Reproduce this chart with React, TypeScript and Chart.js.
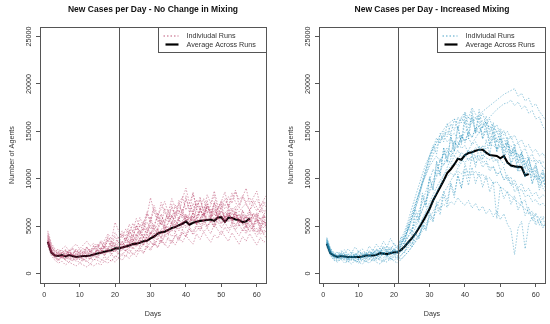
import React, { useEffect, useRef } from "react";
import { Chart, registerables } from "chart.js";

Chart.register(...registerables);

const FONT = "'Liberation Sans', Arial, Helvetica, sans-serif";

const DAYS = [
  1, 2, 3, 4, 5, 6, 7, 8, 9, 10, 11, 12, 13, 14, 15, 16, 17, 18, 19, 20,
  21, 22, 23, 24, 25, 26, 27, 28, 29, 30, 31, 32, 33, 34, 35, 36, 37, 38, 39, 40,
  41, 42, 43, 44, 45, 46, 47, 48, 49, 50, 51, 52, 53, 54, 55, 56, 57, 58, 59, 60,
  61, 62, 63,
];

const X_TICKS = [0, 10, 20, 30, 40, 50, 60];
const Y_TICKS = [0, 5000, 10000, 15000, 20000, 25000];
const INTERVENTION_DAY = 21;

const TITLE_LEFT = "New Cases per Day - No Change in Mixing";
const TITLE_RIGHT = "New Cases per Day - Increased Mixing";
const LEGEND_LABELS = ["Indiviudal Runs", "Average Across Runs"];

// Average across runs (days 1..58)
const AVG_NO_CHANGE = [
  3350, 2200, 1900, 1850, 1950, 1800, 1950, 1850, 1750, 1800,
  1850, 1850, 1900, 2000, 2100, 2200, 2300, 2400, 2450, 2650,
  2650, 2750, 2850, 2950, 3100, 3150, 3250, 3400, 3450, 3700,
  3900, 4200, 4350, 4400, 4600, 4800, 4900, 5100, 5250, 5500,
  5150, 5350, 5450, 5550, 5600, 5650, 5700, 5550, 5900, 5950,
  5450, 5900, 5850, 5700, 5650, 5400, 5500, 5800,
];

const AVG_INCREASED = [
  3150, 2150, 1900, 1750, 1850, 1800, 1750, 1750, 1750, 1750,
  1800, 1900, 1900, 1900, 1950, 2150, 2100, 2050, 2150, 2250,
  2250, 2500, 2850, 3300, 3700, 4200, 4800, 5400, 6100, 6800,
  7700, 8400, 9100, 9800, 10600, 11000, 11500, 12100, 12000, 12500,
  12700, 12800, 12950, 13050, 13050, 12750, 12500, 12450, 12400, 12150,
  12400, 11700, 11400, 11300, 11250, 11200, 10350, 10500,
];

// Individual runs, no change in mixing (days 1..63)
const RUNS_NO_CHANGE = [
  [3600,2500,2000,1800,2100,1700,2300,1900,1600,2000, 1800,2200,1700,2100,2500,2000,2800,2400,2200,3000, 2600,3100,2700,3500,2900,3800,3300,3000,4100,3600, 4300,3800,4600,4100,5000,4400,5300,4700,5600,5000, 5500,6100,5200,5800,6400,5600,6000,5300,6600,6000, 5400,6200,5800,6500,5700,5200,6100,5500,6300,5800, 5200,6000,5600],
  [3900,2800,2300,2000,1700,2400,2100,1900,2600,2200, 2000,2700,2300,1900,2800,3300,2700,3800,3200,4300, 3700,4500,3900,5200,4400,5800,4900,5300,6500,5600, 7200,6100,6800,7600,6400,7900,6900,7300,8100,6700, 7500,8400,7000,7800,6600,8300,7400,8700,7200,6800, 7900,7100,8500,7500,6900,8100,7300,6600,7700,7000, 6400,7400,6800],
  [3100,2100,1600,1300,1800,1400,1200,1700,1500,1100, 1600,1300,1000,1500,1400,1200,1800,1500,1300,1900, 1600,2100,1800,2500,2000,2300,2800,2200,3000,2600, 3300,2800,3600,3100,2700,3500,3000,3800,3300,4000, 3500,3100,4200,3600,4400,3800,3300,4100,3700,4500, 3900,3400,4300,3700,3100,3900,3400,4200,3600,3000, 3800,3300,3600],
  [4300,3000,2400,2100,2500,1900,2300,2600,2000,2300, 2700,2100,2400,2900,2300,2600,3100,2700,3400,2900, 3300,2800,3700,3200,4000,3500,4400,3800,4900,4200, 5100,4500,5600,4900,5300,6100,5400,5900,6400,5700, 6200,5500,6800,6000,5400,6300,5900,6700,6100,5600, 6500,6000,6900,6200,5700,6600,6000,5500,6400,5900, 6800,6200,5700],
  [3300,2300,1900,2200,1800,2000,2400,1800,2100,1700, 2000,2400,2000,2600,3000,2500,3500,4200,3600,5400, 4500,3800,4700,4100,5300,4600,5900,5000,6300,5400, 6800,5800,7500,6400,5900,6900,6200,7200,6500,7800, 6900,6300,7400,6700,6100,7100,6400,6900,6000,6600, 5800,6300,5600,6100,5300,5900,5000,5600,5200,5800, 5000,5500,4900],
  [3500,2200,1700,1500,1900,1400,1700,1300,1600,1900, 1500,1200,1600,1400,1800,1500,1300,1700,2000,1600, 2200,1900,2500,2100,2800,2300,2600,3100,2700,3400, 3000,3800,3300,4100,3600,3200,4000,3500,4300,3900, 4700,4100,4500,5000,4400,4800,4200,5200,4600,4100, 4900,4300,5100,4500,4000,4700,4200,5000,4400,4800, 4100,4600,4300],
  [3800,2600,2000,1700,2200,2500,1900,2200,1800,2400, 2100,1800,2300,2000,2600,2200,2900,2400,2700,2300, 2900,3400,2800,3900,3300,4200,3600,4800,4100,5500, 4600,5200,6100,5300,6700,5800,7200,6300,7900,9000, 7400,6500,7800,6900,6000,7300,6600,5700,6800,6100, 5300,6400,5600,4900,5800,5100,4400,5200,4600,3900, 4700,4100,3600],
  [4000,2700,2100,2400,2000,2300,1800,2100,2500,2100, 2400,2000,2300,2700,2200,2500,2100,2600,3000,2500, 2800,3300,2700,3100,3600,3000,3400,3900,3300,4400, 3800,4300,3700,4800,4200,4600,5100,4500,5400,4800, 5300,5800,5100,5600,6200,5500,5900,6400,5700,6100, 5500,6000,6600,5800,6300,5600,6100,6700,5900,6400, 5700,6200,6900],
  [3200,2400,1800,2000,1600,1900,1500,2000,1700,1500, 1900,1600,2000,1700,2100,2500,2000,2400,2800,2300, 2700,2400,3000,2600,3400,2900,3700,3200,3900,4400, 3800,4600,4100,5000,4400,5400,4800,5700,5100,6000, 5400,6300,5700,6600,6100,7000,6400,7400,6800,7700, 7100,8100,7400,8600,7800,8200,7500,8000,7300,7800, 7100,7600,7200],
  [3400,2300,1800,1500,1700,2000,1600,1400,1800,1500, 1300,1700,1500,1900,1600,2200,1900,2300,2000,2600, 2200,2900,2400,2700,3200,2800,3500,3000,3800,3300, 2900,3600,3200,3900,4500,3900,4300,3800,4600,4200, 4900,4400,5200,4700,5600,5000,5400,4900,5800,5200, 6000,5400,5800,5100,5700,5300,4800,5500,5000,5700, 5200,4800,5400],
  [4500,3200,2600,2200,2600,2900,2400,2800,3100,2600, 3000,3400,2900,3200,2800,3500,3100,3900,3400,3100, 3600,4100,3500,4500,3900,5000,4300,4800,5400,4700, 5200,5900,5100,5600,6300,5500,6000,6700,5800,6300, 5700,6400,5900,6600,7100,6400,6800,6200,7000,7500, 6800,7300,6600,7100,6500,7000,7400,6700,7200,6600, 7100,6500,7000],
  [2900,1900,1400,1100,1300,900,1200,1000,800,1100, 900,700,1000,800,1100,900,1300,1100,1500,1200, 1700,1400,1900,1600,2200,1800,2500,2100,2800,2400, 3200,2700,3500,3000,3800,3300,4100,3600,4400,3900, 4700,4200,5000,4500,5300,4800,5600,5100,5900,5300, 6100,5500,6400,5800,6200,5600,6000,5400,5900,5300, 5800,5200,5600],
  [3700,2500,2100,1900,2300,1800,2200,2000,1800,2200, 1900,2300,2600,2100,2400,2800,2300,2700,3200,2800, 3100,2600,3300,2900,3700,3200,3600,4200,3700,4100, 4700,4100,4600,5200,4600,5000,5600,5000,5500,6100, 5500,6000,5300,5800,6400,5700,6300,5500,6000,6600, 5900,6400,5700,6300,5600,6200,5800,6500,5900,6300, 5600,6100,5800],
  [3300,2200,1800,2100,1700,1500,1900,1700,2100,1800, 1600,2000,1800,2200,1900,2300,2700,2200,2600,3100, 2700,3300,3800,3200,4500,3900,5200,4500,6100,8000, 6500,5500,6300,5300,6000,5100,6600,5700,6200,5400, 6000,5300,5800,5100,5700,5000,5600,4900,5500,4800, 5400,4700,5300,4600,5200,4500,5100,4400,5000,4300, 4900,4200,4800],
  [4100,2900,2300,2600,2100,2500,2000,2700,2200,2600, 2100,2800,2300,3000,2500,3300,2700,3600,2900,3900, 3200,4200,3400,4600,3700,5100,4000,5500,4300,6000, 4700,6400,5100,6900,5500,7300,5800,7700,6100,8200, 6400,8600,6700,8100,6300,7700,6000,7400,5700,7100, 5500,6800,5200,6500,5000,6200,4800,6000,4600,5800, 4400,5600,4300],
  [3200,2100,1700,1400,1900,1500,2100,1600,1300,1800, 1400,1900,1500,2100,1700,2400,1900,2700,2100,2500, 2000,2800,2300,3200,2600,3500,2800,3900,3100,4300, 3400,4700,3700,5100,4000,5500,4300,5900,4600,6200, 4900,6600,5200,7000,5500,7300,5800,7600,6000,7400, 5700,7100,5500,6900,5300,6700,5100,6500,4900,6300, 4700,6100,4500],
  [3500,2400,1900,2300,1700,2100,2500,2000,2400,1900, 2300,2800,2200,2600,3100,2500,2900,3400,2800,3300, 3800,3000,3500,4100,3400,3900,4600,3800,4300,5100, 4200,4800,5700,4600,5300,6200,5100,5800,6800,5500, 6300,7400,6000,6800,7900,6400,7200,8300,6700,7600, 8600,7000,7900,8800,7200,8100,9000,7300,8000,8700, 7100,7800,8400],
];

// Individual runs, increased mixing (days 1..63)
const RUNS_INCREASED = [
  [3400,2300,1900,1600,2000,1700,1500,1900,1700,2000, 1800,2100,1700,2200,1900,2400,2000,2300,1800,2500, 2200,3100,3800,4600,5600,6800,7900,9500,10800,12400, 13500,12600,14800,13900,15800,14700,16300,15200,16500,17000, 15600,16400,14800,15700,14200,15100,13600,14400,12900,13700, 12200,13000,11600,12300,10900,11700,10300,11000,9600,10400, 9200,9800,9000],
  [3100,2100,1700,1900,1500,1800,1600,1400,1800,1600, 1900,1700,2000,1800,1600,2000,2300,1900,2200,2000, 2300,2700,3300,3900,4700,5500,6600,7500,8700,9800, 11000,10300,12100,11400,13000,12300,14000,13200,14600,13800, 15000,14300,15300,15500,14700,15200,14200,14900,13800,14300, 13300,13900,12800,13300,12200,12700,11600,12100,10900,11400, 10200,10700,10000],
  [3600,2500,2000,1700,2100,1900,1600,2000,1800,1500, 1700,2000,1800,2200,2000,1700,2100,2400,2100,2600, 2400,3300,4200,5200,6300,7500,8400,9600,10400,11300, 11900,12400,11800,12700,12200,12900,12400,13000,12300,12600, 11900,12400,11600,12100,11200,11700,10800,11300,10300,10800, 9900,10400,9400,9900,9000,9500,8600,9000,8200,8600, 7900,8300,8000],
  [3300,2200,1800,2000,1700,1900,2100,1700,1900,2200, 2000,1800,2200,2000,2400,2100,2500,2200,2600,2300, 2100,2500,2900,3400,4000,4800,5700,6700,7800,8900, 9800,10900,11800,12600,13300,12800,13900,13400,14500,14000, 14900,14400,15300,14800,15600,16000,15200,15700,14900,15300, 14600,15000,14200,14600,13800,14100,13300,13600,12800,13100, 12400,12700,12000],
  [3000,2000,1500,1300,1600,1400,1200,1500,1300,1100, 1400,1200,1500,1300,1600,1400,1200,1600,1400,1800, 1500,1900,2400,2900,3500,4200,4900,5700,6400,7200, 7900,8600,9200,9800,10200,10600,10300,10800,10500,11000, 10700,10400,10800,10200,10500,9900,10100,9500,9700,9100, 8900,8500,8200,7800,7500,7100,6800,6500,6200,6100, 5900,6000,5800],
  [3200,2100,1700,1500,1800,1600,1400,1800,1600,1400, 1700,1500,1800,1600,1400,1700,1500,1900,1600,1400, 1700,1500,1900,2300,2800,3400,4100,4900,5800,6700, 7600,8500,9400,10300,11200,12100,13000,13600,14300,14900, 15400,15900,16300,16700,17100,17400,17700,18000,18300,18600, 18900,19100,19300,19500,18700,19000,18200,18500,17600,17900, 17100,16600,16000],
  [2800,1900,1400,1200,1500,1100,1300,1000,1400,1200, 1000,1300,1100,1500,1200,1000,1400,1200,1600,1300, 1100,1500,1900,2300,2800,3300,3900,4500,5000,5600, 6000,6500,6900,7300,7000,7600,7300,8000,7500,7200, 7700,6900,7400,6600,7100,6300,6800,6000,6600,5700, 6300,5200,4600,2000,4800,5500,2600,5200,6000,5100, 5700,4800,5300],
  [3700,2600,2100,1800,2200,2000,1700,2100,1900,2300, 2100,1900,2300,2100,2500,2200,2700,2400,2100,2600, 2900,3600,4500,5600,6900,8100,9300,10500,11600,12400, 13200,13800,14200,14500,13900,14300,13600,13900,13200,13500, 12700,13000,12200,12500,11700,11900,11100,11300,10500,10700, 9900,10100,9300,9500,8700,8900,8100,8300,7600,7800, 7200,7400,7000],
  [3500,2400,1900,2200,1800,2000,1800,1600,2000,1800, 2100,1900,2300,2000,2500,2200,2800,2400,2700,2300, 2600,3200,4000,4900,6000,7200,8500,9800,11100,12300, 13300,14300,13700,15000,14400,15800,15100,16500,15900,17000, 16400,17500,16800,16200,16900,15700,16300,15200,15700,14600, 15100,14000,14500,13400,13800,12800,13200,12200,12600,11600, 12000,11200,11000],
  [3200,2200,1800,1600,1900,1700,1500,1800,1600,1900, 1700,2000,1800,2100,1900,2200,2000,2300,2100,2400, 2200,2500,2800,3200,3700,4300,5000,5800,6600,7500, 8300,9100,9800,10400,10900,11300,11700,11400,12000,11700, 12200,11900,12400,12100,12500,12200,12000,12300,11800,12000, 11500,11700,11200,11300,10800,10900,10500,10600,10200,10300, 10000,10100,9800],
  [3300,2300,1800,1600,2000,1800,1600,1900,1700,1500, 1800,1600,2000,1800,2200,1900,2100,1800,2300,2000, 2400,3000,3800,4700,5800,7000,8200,9400,10500,11600, 12500,13400,14000,14600,15000,14500,14800,14200,14600,14000, 14300,13600,13900,13100,13400,12500,12800,11800,12100,10900, 11200,9800,10200,8600,9000,7400,7800,6200,6600,5400, 5800,5000,5200],
  [3600,2400,2000,1800,2200,2500,2000,2300,2100,1800, 2200,2000,2400,2100,2600,2300,2900,2500,2800,2600, 2300,2800,3300,3900,4500,5200,6000,6800,7700,8600, 9400,10200,10900,11500,12000,11600,12400,12000,12800,12400, 13000,12600,13300,12900,13500,13100,13600,13500,13200,13400, 13000,13200,12700,12900,12400,12600,12100,12300,11800,12000, 11600,11800,11500],
  [3400,2300,1900,1700,2100,1800,2000,1700,2100,1900, 1700,2100,1900,2300,2000,2400,2100,2600,2200,2500, 2300,3000,3800,4800,5900,7100,8400,9700,10900,12000, 13000,13900,14600,15200,15700,16000,16300,15800,16400,15900, 16500,16000,16500,15800,16100,15300,15600,14700,15000,14000, 14300,13300,13500,12500,12700,11700,11900,10800,11000,9900, 10100,9000,8500],
  [3000,2000,1600,1400,1700,1500,1300,1600,1400,1200, 1500,1300,1600,1400,1700,1500,1300,1700,1500,1900, 1600,2000,2300,2700,3100,3600,4100,4700,5300,5900, 6500,7200,7800,8500,9100,9800,10400,11100,11700,12400, 13000,13700,14300,14900,15500,16000,16500,16900,17300,17600, 17900,18000,18300,17700,18100,17400,17700,16900,17200,16300, 16500,15500,15000],
  [3500,2600,2000,2300,1800,2200,1700,2100,1900,2400, 2000,2300,1800,2500,2100,2700,2200,2900,2400,3200, 2600,3500,3000,4800,4100,6300,5400,8200,7000,10100, 8800,11700,10300,13200,11800,14400,12900,15600,13800,16800, 14500,17200,15000,16600,14200,15900,13500,15300,12800,14600, 12100,13900,11500,13000,10800,12400,10100,11600,9400,10900, 8800,10200,8400],
  [3100,2200,1700,2000,1500,1800,1400,1700,1300,1600, 1400,1800,1500,1900,1600,2100,1700,2000,1600,2200, 1800,2500,2200,3300,2800,4200,3600,5300,4500,6500, 5600,7600,6700,8700,7600,9600,8400,10300,9000,10800, 9300,11200,9500,10700,9100,10300,8600,9700,5800,9200, 7900,8700,7300,8200,6700,7600,6100,7000,5600,6400, 5100,5900,4700],
  [3800,2700,2200,1900,2400,2100,2600,2200,2800,2300, 2600,2100,2900,2400,3100,2600,3400,2800,3700,3000, 2800,3900,3300,5200,4400,6800,5700,8500,7200,10200, 8800,11900,10400,13300,11700,14600,12900,15500,13600,16100, 14200,16700,14800,17300,15300,16600,14700,15900,13900,15100, 13200,14400,12500,13600,11700,12800,11000,12100,10300,11300, 9600,10600,9000],
  [3300,2400,1900,1600,2000,1600,1900,1500,1800,1400, 1800,1500,1900,1600,2000,1700,2200,1800,2400,2000, 1900,2300,2800,3400,3100,4300,3800,5100,4600,6200, 5400,7300,6200,8300,7100,9400,8000,10500,9000,11600, 10100,12700,11200,13500,12000,14100,12600,14600,13100,14200, 12700,13800,12300,13300,11700,12800,11200,12200,10600,11600, 10000,11000,9500],
];

const COLOR_NO_CHANGE = "rgba(176, 48, 90, 0.5)";
const COLOR_INCREASED = "rgba(30, 140, 185, 0.5)";
const LEGEND_NO_CHANGE = "rgba(176, 48, 90, 0.8)";
const LEGEND_INCREASED = "rgba(30, 140, 185, 0.8)";

type PanelProps = {
  title: string;
  runs: number[][];
  avg: number[];
  color: string;
  legendColor: string;
  padLeft: number;
  padRight: number;
};

function Panel({ title, runs, avg, color, legendColor, padLeft, padRight }: PanelProps) {
  const ref = useRef<HTMLCanvasElement | null>(null);

  useEffect(() => {
    if (!ref.current) return;
    const axisFont = { family: FONT, size: 7.2 };

    const rPlot = {
      id: "rPlot",
      afterDatasetsDraw(chart: any) {
        const { ctx, chartArea: a, scales } = chart;
        ctx.save();
        const vx = Math.round(scales.x.getPixelForValue(INTERVENTION_DAY)) + 0.5;
        ctx.strokeStyle = "#555";
        ctx.lineWidth = 1;
        ctx.beginPath();
        ctx.moveTo(vx, a.top);
        ctx.lineTo(vx, a.bottom);
        ctx.stroke();
        ctx.strokeStyle = "#555";
        ctx.strokeRect(Math.round(a.left) + 0.5, Math.round(a.top) + 0.5, Math.round(a.right - a.left), Math.round(a.bottom - a.top));
        ctx.fillStyle = "#333";
        ctx.font = `7.2px ${FONT}`;
        ctx.textAlign = "center";
        ctx.textBaseline = "middle";
        for (const t of scales.y.ticks) {
          const y = scales.y.getPixelForValue(t.value);
          ctx.save();
          ctx.translate(a.left - 11, y);
          ctx.rotate(-Math.PI / 2);
          ctx.fillText(String(t.value), 0, 0);
          ctx.restore();
        }
        const lw = 108, lh = 25;
        const lx = Math.round(a.right) - lw + 0.5;
        const ly = Math.round(a.top) + 0.5;
        ctx.fillStyle = "#fff";
        ctx.fillRect(lx, ly, lw, lh);
        ctx.strokeStyle = "#555";
        ctx.strokeRect(lx, ly, lw, lh);
        ctx.strokeStyle = legendColor;
        ctx.lineWidth = 1;
        ctx.setLineDash([1.5, 2]);
        ctx.beginPath();
        ctx.moveTo(lx + 5, ly + 8.5);
        ctx.lineTo(lx + 20, ly + 8.5);
        ctx.stroke();
        ctx.setLineDash([]);
        ctx.strokeStyle = "#000";
        ctx.lineWidth = 2.2;
        ctx.beginPath();
        ctx.moveTo(lx + 7, ly + 17);
        ctx.lineTo(lx + 20, ly + 17);
        ctx.stroke();
        ctx.fillStyle = "#333";
        ctx.textAlign = "left";
        ctx.fillText(LEGEND_LABELS[0], lx + 28, ly + 8.7);
        ctx.fillText(LEGEND_LABELS[1], lx + 28, ly + 17.3);
        ctx.restore();
      },
    };

    const datasets: any[] = runs.map((r) => ({
      data: r.map((v, i) => ({ x: DAYS[i], y: v })),
      borderColor: color,
      borderWidth: 0.9,
      borderDash: [1.5, 1.5],
      pointRadius: 0,
      fill: false,
      tension: 0,
    }));
    datasets.push({
      data: avg.map((v, i) => ({ x: DAYS[i], y: v })),
      borderColor: "#000",
      borderWidth: 2.1,
      pointRadius: 0,
      fill: false,
      tension: 0,
    });

    const chart = new Chart(ref.current, {
      type: "line",
      data: { datasets },
      options: {
        animation: false,
        responsive: false,
        events: [],
        layout: { padding: { left: padLeft, right: padRight, top: 0, bottom: 0 } },
        plugins: {
          legend: { display: false },
          tooltip: { enabled: false },
          title: {
            display: true,
            text: title,
            fullSize: false,
            color: "#111",
            font: { family: FONT, size: 8.5, weight: "bold" },
            padding: { top: 4.9, bottom: 11.9 },
          },
        },
        scales: {
          x: {
            type: "linear",
            min: -1.2,
            max: 62.6,
            afterBuildTicks: (s: any) => {
              s.ticks = X_TICKS.map((v) => ({ value: v }));
            },
            afterFit: (s: any) => {
              s.height = 41;
            },
            grid: { drawOnChartArea: false, drawTicks: true, tickLength: 4, color: "#555" },
            border: { display: false },
            ticks: { font: axisFont, color: "#333", padding: 4, maxRotation: 0, autoSkip: false },
            title: { display: true, text: "Days", font: axisFont, color: "#333", padding: { top: 0, bottom: 6 } },
          },
          y: {
            type: "linear",
            min: -1000,
            max: 26000,
            afterBuildTicks: (s: any) => {
              s.ticks = Y_TICKS.map((v) => ({ value: v }));
            },
            afterFit: (s: any) => {
              s.width = 40;
            },
            grid: { drawOnChartArea: false, drawTicks: true, tickLength: 4, color: "#555" },
            border: { display: false },
            ticks: { display: false },
            title: { display: true, text: "Number of Agents", font: axisFont, color: "#333", padding: { top: 7.6, bottom: 0 } },
          },
        },
      },
      plugins: [rPlot],
    } as any);

    return () => chart.destroy();
  }, [title, runs, avg, color, legendColor, padLeft, padRight]);

  return <canvas ref={ref} width={275} height={324} style={{ display: "block", width: 275, height: 324 }} />;
}

export default function App() {
  return (
    <div style={{ position: "absolute", left: 0, top: 0, width: 550, height: 324, display: "flex", background: "#fff" }}>
      <Panel title={TITLE_LEFT} runs={RUNS_NO_CHANGE} avg={AVG_NO_CHANGE} color={COLOR_NO_CHANGE} legendColor={LEGEND_NO_CHANGE} padLeft={0} padRight={9} />
      <Panel title={TITLE_RIGHT} runs={RUNS_INCREASED} avg={AVG_INCREASED} color={COLOR_INCREASED} legendColor={LEGEND_INCREASED} padLeft={4} padRight={5} />
    </div>
  );
}
